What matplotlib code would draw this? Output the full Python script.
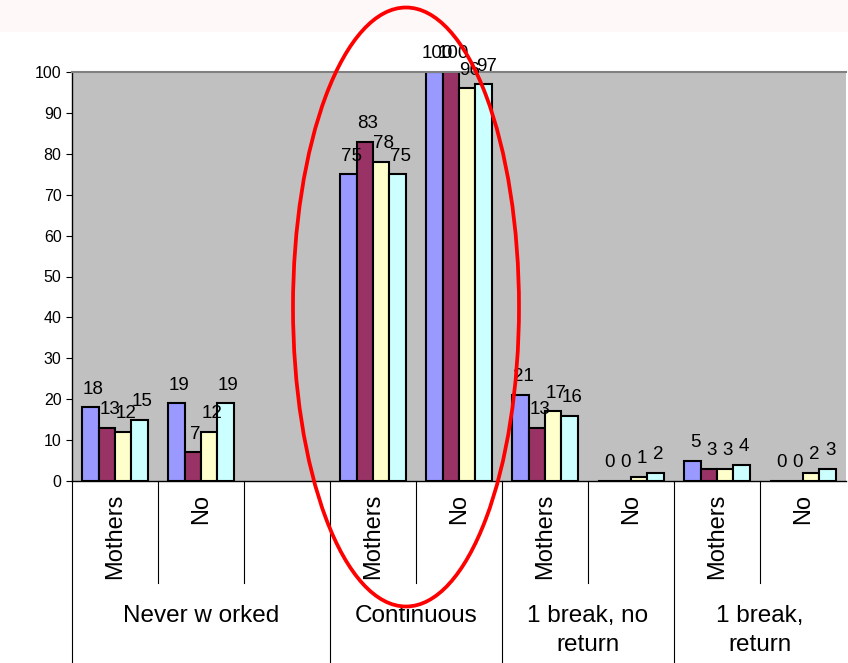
import matplotlib.pyplot as plt
import matplotlib.transforms as mtransforms
from matplotlib.patches import Ellipse, Rectangle
from matplotlib.lines import Line2D

plt.rcParams['font.family'] = ['Liberation Sans', 'DejaVu Sans']

# slot labels along the x axis (blank slot after "Never worked")
slot_labels = ['Mothers', 'No', '', 'Mothers', 'No', 'Mothers', 'No', 'Mothers', 'No']
groups = ['Never w orked', 'Continuous', '1 break, no\nreturn', '1 break,\nreturn']
group_spans = [(0, 2), (3, 4), (5, 6), (7, 8)]

# four series, one value per slot (None = empty slot)
s1 = [18, 19, None, 75, 100, 21, 0, 5, 0]
s2 = [13, 7, None, 83, 100, 13, 0, 3, 0]
s3 = [12, 12, None, 78, 96, 17, 1, 3, 2]
s4 = [15, 19, None, 75, 97, 16, 2, 4, 3]
series = [s1, s2, s3, s4]
colors = ['#9999FF', '#993366', '#FFFFCC', '#CCFFFF']

W, H = 848, 663
fig = plt.figure(figsize=(W / 100, H / 100), dpi=100)
fig.add_artist(Rectangle((0, 1 - 32 / H), 1, 32 / H, transform=fig.transFigure,
                         facecolor='#FFF8F8', edgecolor='none', zorder=0))

ax = fig.add_axes([72 / W, 1 - 481 / H, 774 / W, 409 / H])
ax.set_facecolor('#C0C0C0')
ax.set_xlim(-0.5, 8.5)
ax.set_ylim(0, 100)

w = 0.19
for k, (vals, c) in enumerate(zip(series, colors)):
    off = (k - 1.5) * w
    for i, v in enumerate(vals):
        if v is None:
            continue
        ax.bar(i + off, v, width=w, color=c, edgecolor='black', linewidth=1.5, zorder=2)
        ax.annotate(str(v), (i + off, v), xytext=(2, 7), textcoords='offset points',
                    ha='center', va='bottom', fontsize=13.5, annotation_clip=False)

ax.set_yticks(range(0, 101, 10))
ax.tick_params(axis='y', labelsize=11.5, length=4, direction='out')
ax.set_xticks([])
ax.spines['right'].set_visible(False)
ax.spines['top'].set_color('#808080')
ax.spines['top'].set_linewidth(1.5)
ax.spines['left'].set_linewidth(1)
ax.spines['bottom'].set_linewidth(1)

# category table under the axis
tr = mtransforms.blended_transform_factory(ax.transData, fig.transFigure)
y_axis = 1 - 481 / H
y_mid = 1 - 583 / H
for b in [x - 0.5 for x in range(9)]:
    major = b in (-0.5, 2.5, 4.5, 6.5)
    y_end = 0 if major else y_mid
    fig.add_artist(Line2D([b, b], [y_axis, y_end], transform=tr, color='black', linewidth=0.8))
for i, lab in enumerate(slot_labels):
    if lab:
        fig.text(i, 1 - 494 / H, lab, transform=tr, rotation=90, ha='center', va='top', fontsize=17)
for g, (a, b) in zip(groups, group_spans):
    fig.text((a + b) / 2, 1 - 605 / H, g, transform=tr, ha='center', va='top', fontsize=17.5,
             linespacing=1.4)

# red ellipse highlighting "Continuous"
fig.add_artist(Ellipse((406 / W, 1 - 307 / H), 226 / W, 599 / H, transform=fig.transFigure,
                       fill=False, edgecolor='red', linewidth=2.7, zorder=5))

fig.savefig('out.png', dpi=100)
